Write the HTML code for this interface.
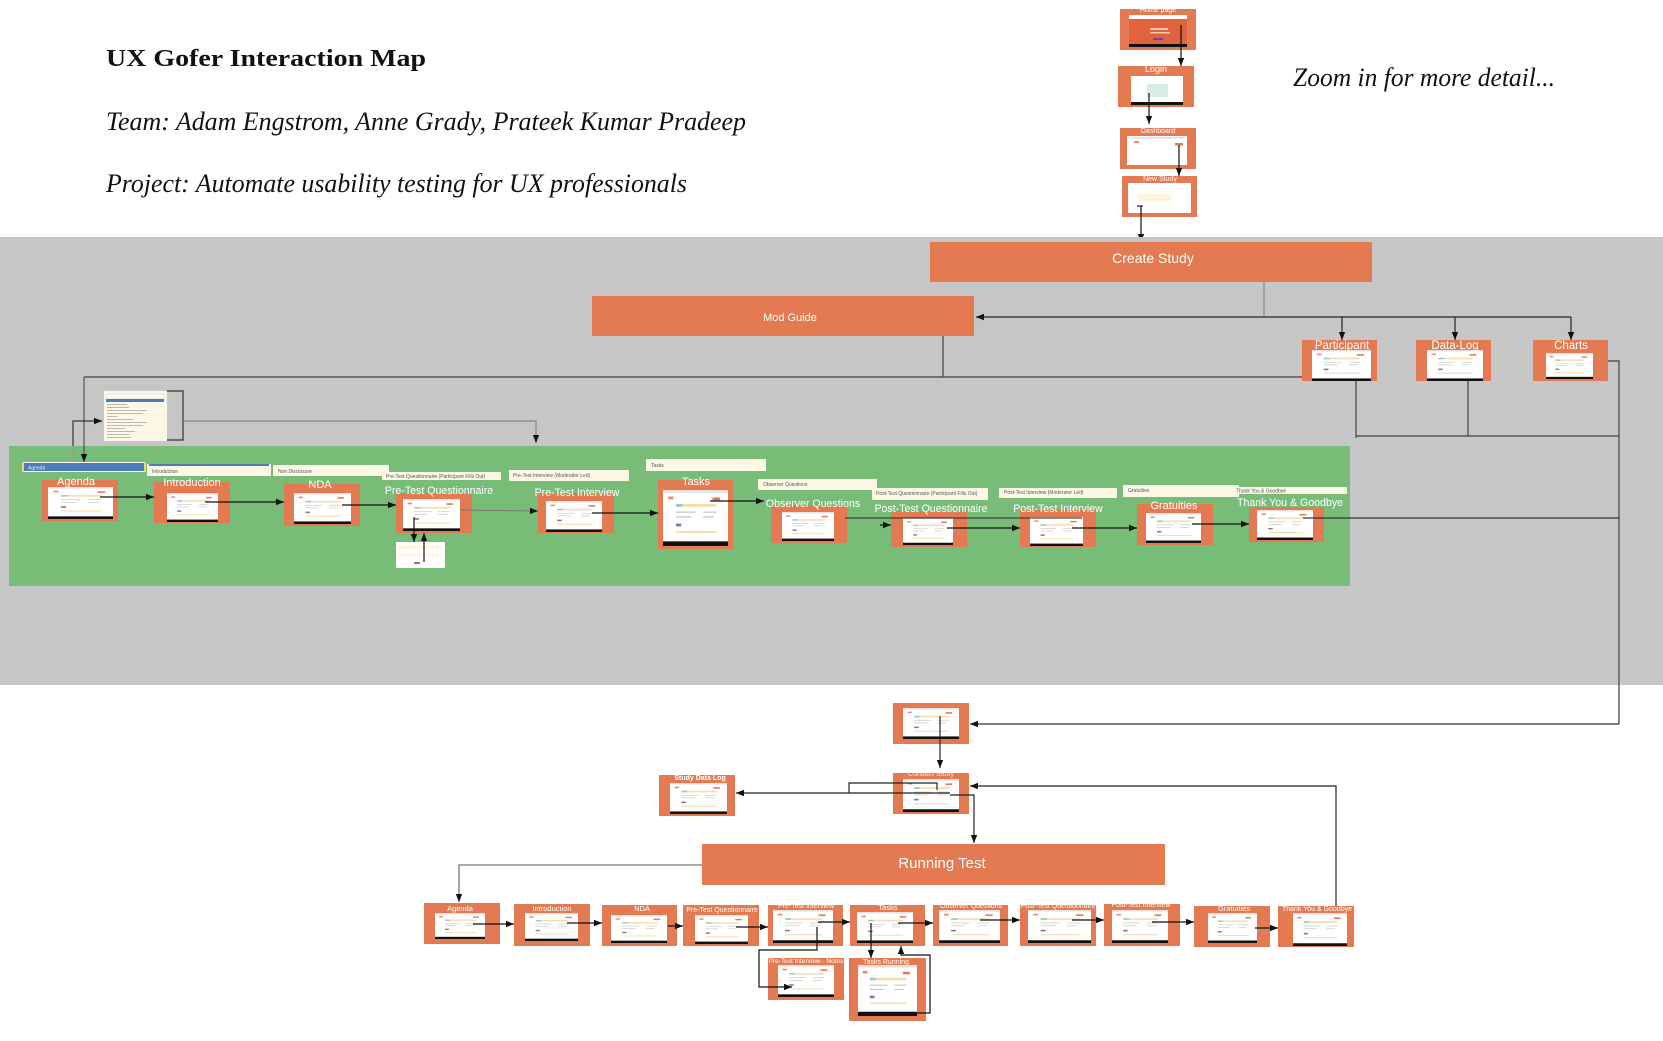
<!DOCTYPE html>
<html>
<head>
<meta charset="utf-8">
<style>
html,body{margin:0;padding:0;background:#fff;}
svg{display:block;}
.t{font-family:"Liberation Sans",Arial,sans-serif;fill:#fff;text-anchor:middle;}
.dd{font-family:"Liberation Sans",Arial,sans-serif;fill:#555;font-size:5px;}
</style>
</head>
<body>
<svg width="1663" height="1041" viewBox="0 0 1663 1041" xmlns="http://www.w3.org/2000/svg">
<defs>
<marker id="a" viewBox="0 0 10 10" refX="10" refY="5" markerWidth="8" markerHeight="8" orient="auto" markerUnits="userSpaceOnUse"><path d="M0,1 L10,5 L0,9z" fill="#111"/></marker>
<symbol id="th" viewBox="0 0 100 60" preserveAspectRatio="none">
<rect width="100" height="60" fill="#fff"/>
<rect width="100" height="3" fill="#e3e3e3"/>
<rect x="8" y="7" width="8" height="3" fill="#f08a6a"/>
<rect x="76" y="8" width="12" height="3" fill="#e47a52"/>
<rect x="20" y="15" width="62" height="3" fill="#f5dca8"/>
<rect x="20" y="15" width="10" height="3" fill="#8fcfc5"/>
<rect x="20" y="23" width="30" height="1.5" fill="#ccc"/>
<rect x="20" y="28" width="24" height="1.5" fill="#ccc"/>
<rect x="62" y="23" width="20" height="1.5" fill="#ccc"/>
<rect x="62" y="28" width="16" height="1.5" fill="#ccc"/>
<rect x="20" y="36" width="8" height="3" fill="#8c6fa5"/>
<rect x="20" y="44" width="62" height="2" fill="#f5dca8"/>
<rect y="55" width="100" height="5" fill="#111"/>
</symbol>
</defs>

<!-- header texts -->
<text x="106" y="66" font-family="Liberation Serif, serif" font-weight="bold" font-size="24" textLength="320" lengthAdjust="spacingAndGlyphs" fill="#111">UX Gofer Interaction Map</text>
<text x="106" y="130" font-family="Liberation Serif, serif" font-style="italic" font-size="26" textLength="640" lengthAdjust="spacingAndGlyphs" fill="#111">Team: Adam Engstrom, Anne Grady, Prateek Kumar Pradeep</text>
<text x="106" y="192" font-family="Liberation Serif, serif" font-style="italic" font-size="26" textLength="581" lengthAdjust="spacingAndGlyphs" fill="#111">Project: Automate usability testing for UX professionals</text>
<text x="1293" y="86" font-family="Liberation Serif, serif" font-style="italic" font-size="26" textLength="262" lengthAdjust="spacingAndGlyphs" fill="#111">Zoom in for more detail...</text>

<!-- top nodes -->
<rect x="1120" y="9" width="76" height="41" fill="#e47a52"/>
<rect x="1129" y="15" width="58" height="32" fill="#fff"/>
<rect x="1129" y="19" width="58" height="25" fill="#e2623d"/>
<rect x="1150" y="28" width="18" height="2" fill="#f8c8b0"/>
<rect x="1150" y="32" width="20" height="1.5" fill="#f8c8b0"/>
<rect x="1153" y="38" width="10" height="2" fill="#6b4a9a"/>
<rect x="1129" y="44" width="58" height="3" fill="#111"/>
<text class="t" x="1158" y="12" font-size="7">Home page</text>

<rect x="1118" y="66" width="76" height="41" fill="#e47a52"/>
<rect x="1131" y="76" width="52" height="28" fill="#fff"/>
<rect x="1147" y="84" width="21" height="13" fill="#d8ece8"/>
<rect x="1131" y="102" width="52" height="3" fill="#111"/>
<text class="t" x="1156" y="72" font-size="9">Login</text>

<rect x="1120" y="128" width="76" height="41" fill="#e47a52"/>
<rect x="1127" y="136" width="60" height="29" fill="#fff"/>
<rect x="1129" y="137" width="56" height="1.5" fill="#ddd"/>
<rect x="1134" y="141" width="5" height="2" fill="#f08a6a"/>
<rect x="1175" y="143" width="8" height="2.5" fill="#e47a52"/>
<text class="t" x="1158" y="133" font-size="7">Dashboard</text>

<rect x="1122" y="176" width="75" height="41" fill="#e47a52"/>
<rect x="1128" y="183" width="63" height="30" fill="#fff"/>
<rect x="1138" y="194" width="33" height="7" fill="#fdf6dc"/>
<rect x="1137" y="205" width="6" height="2" fill="#8c6fa5"/>
<text class="t" x="1160" y="181" font-size="7">New Study</text>

<g stroke="#111" stroke-width="1.2" fill="none" marker-end="url(#a)">
<line x1="1181" y1="25" x2="1181" y2="66"/>
<line x1="1149" y1="93" x2="1149" y2="124"/>
<line x1="1179" y1="145" x2="1179" y2="176"/>
<line x1="1141" y1="206" x2="1141" y2="242"/>
</g>

<!-- gray band -->
<rect x="0" y="237" width="1663" height="448" fill="#c6c6c6"/>

<!-- Create Study & Mod Guide -->
<rect x="930" y="242" width="442" height="40" fill="#e47a52"/>
<text class="t" x="1153" y="263" font-size="14">Create Study</text>
<rect x="592" y="296" width="382" height="40" fill="#e47a52"/>
<text class="t" x="790" y="321" font-size="11">Mod Guide</text>

<!-- connectors in gray band -->
<g stroke="#777" stroke-width="1" fill="none">
<line x1="1264" y1="282" x2="1264" y2="317"/>
</g>
<g stroke="#222" stroke-width="1.2" fill="none">
<line x1="1571" y1="317" x2="976" y2="317" marker-end="url(#a)"/>
<line x1="1342" y1="317" x2="1342" y2="340" marker-end="url(#a)"/>
<line x1="1455" y1="317" x2="1455" y2="340" marker-end="url(#a)"/>
<line x1="1571" y1="317" x2="1571" y2="340" marker-end="url(#a)"/>
</g>
<g stroke="#555" stroke-width="1.4" fill="none">
<line x1="943" y1="336" x2="943" y2="377"/>
<line x1="84" y1="377" x2="1328" y2="377"/>
<line x1="1356" y1="362" x2="1356" y2="438"/>
<line x1="1356" y1="436" x2="1619" y2="436"/>
<line x1="1468" y1="358" x2="1468" y2="436"/>
<polyline points="1586,361 1619,361 1619,724"/>
</g>
<line x1="1619" y1="724" x2="970" y2="724" stroke="#333" stroke-width="1.2" marker-end="url(#a)"/>
<line x1="84" y1="377" x2="84" y2="462" stroke="#555" stroke-width="1.2" marker-end="url(#a)"/>

<!-- Participant / Data-Log / Charts -->
<rect x="1302" y="340" width="75" height="41" fill="#e47a52"/>
<use href="#th" x="1312" y="350" width="59" height="31"/>
<text class="t" x="1342" y="349" font-size="11.5">Participant</text>
<rect x="1416" y="340" width="75" height="41" fill="#e47a52"/>
<use href="#th" x="1427" y="350" width="56" height="31"/>
<text class="t" x="1455" y="349" font-size="11.5">Data-Log</text>
<rect x="1533" y="340" width="75" height="41" fill="#e47a52"/>
<use href="#th" x="1546" y="353" width="47" height="26"/>
<text class="t" x="1571" y="349" font-size="11.5">Charts</text>

<!-- small dropdown widget -->
<rect x="104" y="391" width="63" height="50" fill="#fdf8e6"/>
<rect x="106" y="394" width="58" height="4" fill="#fff" stroke="#bbb" stroke-width="0.4"/>
<rect x="106" y="399" width="58" height="3" fill="#4d7cb8"/>
<g fill="#aaa">
<rect x="107" y="404" width="20" height="0.8"/><rect x="107" y="407" width="22" height="0.8"/>
<rect x="107" y="410" width="40" height="0.8"/><rect x="107" y="413" width="36" height="0.8"/>
<rect x="107" y="416" width="10" height="0.8"/><rect x="107" y="419" width="26" height="0.8"/>
<rect x="107" y="422" width="40" height="0.8"/><rect x="107" y="425" width="36" height="0.8"/>
<rect x="107" y="428" width="18" height="0.8"/><rect x="107" y="431" width="28" height="0.8"/>
<rect x="107" y="434" width="22" height="0.8"/><rect x="107" y="437" width="24" height="0.8"/>
</g>
<g stroke="#333" stroke-width="1.2" fill="none">
<polyline points="167,391 183,391 183,440 167,440"/>
</g>
<polyline points="183,421 536,421 536,443" stroke="#777" stroke-width="1" fill="none" marker-end="url(#a)"/>
<polyline points="73,498 73,421 102,421" stroke="#333" stroke-width="1.2" fill="none" marker-end="url(#a)"/>

<!-- green area -->
<rect x="9" y="446" width="1341" height="140" fill="#77bd78"/>
<line x1="73" y1="446" x2="73" y2="498" stroke="#999" stroke-width="1"/>
<line x1="84" y1="446" x2="84" y2="462" stroke="#555" stroke-width="1.2" marker-end="url(#a)"/>

<!-- dropdown bars -->
<rect x="22" y="462" width="124" height="10" fill="#fff"/>
<rect x="24" y="463" width="120" height="8" fill="#4d7cb8"/>
<rect x="22" y="462" width="2" height="10" fill="#f3d27a"/>
<rect x="144" y="462" width="2" height="10" fill="#f3d27a"/>
<text class="dd" x="28" y="469.5" style="fill:#e8eef8">Agenda</text>

<rect x="147" y="464" width="124" height="12" fill="#fdf8e6"/>
<rect x="149" y="464" width="120" height="2" fill="#4d7cb8"/>
<text class="dd" x="152" y="473">Introduction</text>

<rect x="273" y="465" width="116" height="11" fill="#fdf8e6"/>
<text class="dd" x="278" y="473">Non Disclosure</text>

<rect x="382" y="472" width="119" height="8" fill="#fdf8e6"/>
<text class="dd" x="386" y="478" font-size="4">Pre-Test Questionnaire (Participant Fills Out)</text>

<rect x="509" y="470" width="120" height="11" fill="#fdf8e6"/>
<text class="dd" x="513" y="477" font-size="4.5">Pre-Test Interview (Moderator Led)</text>

<rect x="646" y="459" width="120" height="12" fill="#fdf8e6"/>
<text class="dd" x="651" y="467">Tasks</text>

<rect x="758" y="479" width="119" height="11" fill="#fdf8e6"/>
<text class="dd" x="763" y="486" font-size="4.5">Observer Questions</text>

<rect x="872" y="488" width="116" height="12" fill="#fdf8e6"/>
<text class="dd" x="876" y="495" font-size="4">Post-Test Questionnaire (Participant Fills Out)</text>

<rect x="999" y="488" width="118" height="10" fill="#fdf8e6"/>
<text class="dd" x="1004" y="494" font-size="4.5">Post-Test Interview (Moderator Led)</text>

<rect x="1123" y="485" width="116" height="12" fill="#fdf8e6"/>
<text class="dd" x="1128" y="492" font-size="4.5">Gratuities</text>

<rect x="1232" y="487" width="115" height="7" fill="#fdf8e6"/>
<text class="dd" x="1236" y="492.5" font-size="4.5">Thank You &amp; Goodbye</text>

<!-- green row nodes -->
<rect x="42" y="480" width="76" height="41" fill="#e47a52"/>
<use href="#th" x="48" y="487" width="65" height="32"/>
<text class="t" x="76" y="485" font-size="11">Agenda</text>

<rect x="154" y="482" width="76" height="41" fill="#e47a52"/>
<use href="#th" x="167" y="493" width="51" height="29"/>
<text class="t" x="192" y="486" font-size="11">Introduction</text>

<rect x="284" y="484" width="76" height="42" fill="#e47a52"/>
<use href="#th" x="294" y="493" width="57" height="31"/>
<text class="t" x="320" y="488" font-size="11">NDA</text>

<rect x="396" y="493" width="76" height="40" fill="#e47a52"/>
<use href="#th" x="403" y="499" width="57" height="32"/>
<text class="t" x="439" y="494" font-size="10.6">Pre-Test Questionnaire</text>

<rect x="538" y="493" width="76" height="40" fill="#e47a52"/>
<use href="#th" x="546" y="501" width="56" height="31"/>
<text class="t" x="577" y="496" font-size="10.6">Pre-Test Interview</text>

<rect x="658" y="480" width="75" height="69" fill="#e47a52"/>
<use href="#th" x="663" y="490" width="65" height="56"/>
<text class="t" x="696" y="485" font-size="11">Tasks</text>

<rect x="771" y="505" width="76" height="38" fill="#e47a52"/>
<use href="#th" x="782" y="512" width="52" height="29"/>
<text class="t" x="813" y="507" font-size="10.6">Observer Questions</text>

<rect x="891" y="511" width="76" height="36" fill="#e47a52"/>
<use href="#th" x="903" y="518" width="50" height="27"/>
<text class="t" x="931" y="512" font-size="10.6">Post-Test Questionnaire</text>

<rect x="1020" y="510" width="76" height="37" fill="#e47a52"/>
<use href="#th" x="1030" y="517" width="53" height="29"/>
<text class="t" x="1058" y="512" font-size="10.6">Post-Test Interview</text>

<rect x="1137" y="504" width="76" height="41" fill="#e47a52"/>
<use href="#th" x="1146" y="513" width="55" height="30"/>
<text class="t" x="1174" y="509" font-size="11">Gratuities</text>

<rect x="1249" y="507" width="75" height="35" fill="#e47a52"/>
<use href="#th" x="1257" y="510" width="56" height="30"/>
<text class="t" x="1290" y="506" font-size="10.6">Thank You &amp; Goodbye</text>

<!-- popup under PTQ -->
<rect x="396" y="542" width="49" height="26" fill="#fff"/>
<rect x="398" y="546" width="44" height="3" fill="#fdf6dc"/>
<rect x="398" y="553" width="44" height="3" fill="#fdf6dc"/>
<rect x="414" y="562" width="6" height="2" fill="#8c6fa5"/>

<!-- green row connectors -->
<g stroke="#111" stroke-width="1.2" fill="none" marker-end="url(#a)">
<line x1="100" y1="497" x2="154" y2="497"/>
<line x1="205" y1="502" x2="284" y2="502"/>
<line x1="342" y1="505" x2="396" y2="505"/>
<line x1="592" y1="513" x2="658" y2="513"/>
<line x1="710" y1="501" x2="764" y2="501"/>
<line x1="880" y1="525" x2="891" y2="525"/>
<line x1="947" y1="528" x2="1020" y2="528"/>
<line x1="1072" y1="528" x2="1137" y2="528"/>
<line x1="1192" y1="524" x2="1249" y2="524"/>
<line x1="414" y1="517" x2="414" y2="542"/>
<line x1="424" y1="562" x2="424" y2="533"/>
</g>
<line x1="460" y1="510" x2="538" y2="511" stroke="#777" stroke-width="1" marker-end="url(#a)"/>
<line x1="845" y1="518" x2="1082" y2="518" stroke="#222" stroke-width="1"/>
<line x1="1303" y1="518" x2="1619" y2="518" stroke="#333" stroke-width="1.2"/>

<!-- lower section -->
<rect x="893" y="703" width="76" height="41" fill="#e47a52"/>
<use href="#th" x="903" y="708" width="56" height="31"/>

<rect x="893" y="773" width="76" height="41" fill="#e47a52"/>
<use href="#th" x="903" y="779" width="56" height="33"/>
<text class="t" x="931" y="776" font-size="7" fill-opacity="0.8">Conduct Study</text>

<rect x="659" y="775" width="76" height="41" fill="#e47a52"/>
<use href="#th" x="670" y="783" width="57" height="31"/>
<text class="t" x="700" y="780" font-size="7" font-weight="bold">Study Data Log</text>

<g stroke="#222" stroke-width="1.2" fill="none">
<line x1="940" y1="716" x2="940" y2="768" marker-end="url(#a)"/>
<line x1="950" y1="793" x2="736" y2="793" marker-end="url(#a)"/>
<polyline points="849,793 849,783 937,783 937,790"/>
<polyline points="950,795 974,795 974,843" marker-end="url(#a)"/>
<polyline points="1336,927 1336,786 970,786" marker-end="url(#a)"/>
</g>

<rect x="702" y="844" width="463" height="41" fill="#e47a52"/>
<text class="t" x="942" y="868" font-size="15">Running Test</text>

<polyline points="702,865 459,865 459,902" stroke="#777" stroke-width="1.3" fill="none" marker-end="url(#a)"/>

<!-- bottom row -->
<rect x="424" y="903" width="76" height="41" fill="#e47a52"/>
<use href="#th" x="435" y="913" width="50" height="26"/>
<text class="t" x="460" y="911" font-size="7.5">Agenda</text>

<rect x="514" y="904" width="76" height="42" fill="#e47a52"/>
<use href="#th" x="525" y="913" width="53" height="28"/>
<text class="t" x="552" y="911" font-size="7.5">Introduction</text>

<rect x="602" y="905" width="75" height="41" fill="#e47a52"/>
<use href="#th" x="611" y="915" width="56" height="28"/>
<text class="t" x="642" y="911" font-size="7.5">NDA</text>

<rect x="683" y="905" width="76" height="41" fill="#e47a52"/>
<use href="#th" x="695" y="915" width="53" height="29"/>
<text class="t" x="722" y="912" font-size="7">Pre-Test Questionnaire</text>

<rect x="768" y="905" width="75" height="41" fill="#e47a52"/>
<use href="#th" x="773" y="910" width="60" height="33"/>
<text class="t" x="806" y="908" font-size="7">Pre-Test Interview</text>

<rect x="850" y="905" width="75" height="41" fill="#e47a52"/>
<use href="#th" x="857" y="912" width="56" height="31"/>
<text class="t" x="888" y="910" font-size="7.5">Tasks</text>

<rect x="933" y="905" width="75" height="41" fill="#e47a52"/>
<use href="#th" x="939" y="910" width="61" height="33"/>
<text class="t" x="971" y="908" font-size="7">Observer Questions</text>

<rect x="1020" y="905" width="76" height="41" fill="#e47a52"/>
<use href="#th" x="1028" y="910" width="63" height="33"/>
<text class="t" x="1058" y="908" font-size="7">Post-Test Questionnaire</text>

<rect x="1104" y="904" width="76" height="42" fill="#e47a52"/>
<use href="#th" x="1112" y="910" width="56" height="33"/>
<text class="t" x="1141" y="907" font-size="7">Post-Test Interview</text>

<rect x="1194" y="906" width="76" height="41" fill="#e47a52"/>
<use href="#th" x="1208" y="913" width="49" height="30"/>
<text class="t" x="1234" y="911" font-size="7.5">Gratuities</text>

<rect x="1278" y="906" width="76" height="41" fill="#e47a52"/>
<use href="#th" x="1293" y="913" width="54" height="33"/>
<text class="t" x="1317" y="911" font-size="7">Thank You &amp; Goodbye</text>

<rect x="768" y="958" width="76" height="42" fill="#e47a52"/>
<use href="#th" x="778" y="965" width="56" height="32"/>
<text class="t" x="806" y="963" font-size="6.5">Pre-Test Interview - Notes</text>

<rect x="849" y="958" width="77" height="63" fill="#e47a52"/>
<use href="#th" x="858" y="965" width="59" height="51"/>
<text class="t" x="886" y="964" font-size="7">Tasks Running</text>

<g stroke="#111" stroke-width="1.2" fill="none" marker-end="url(#a)">
<line x1="473" y1="924" x2="514" y2="924"/>
<line x1="567" y1="923" x2="602" y2="923"/>
<line x1="668" y1="926" x2="683" y2="926"/>
<line x1="736" y1="927" x2="768" y2="927"/>
<line x1="818" y1="922" x2="850" y2="922"/>
<line x1="898" y1="923" x2="933" y2="923"/>
<line x1="980" y1="920" x2="1020" y2="920"/>
<line x1="1072" y1="920" x2="1104" y2="920"/>
<line x1="1152" y1="922" x2="1194" y2="922"/>
<line x1="1255" y1="928" x2="1278" y2="928"/>
<polyline points="817,927 817,950 759,950 759,987 792,987"/>
<line x1="871" y1="923" x2="871" y2="958"/>
<polyline points="888,1013 930,1013 930,955 901,955 901,946"/>
</g>
</svg>
</body>
</html>
